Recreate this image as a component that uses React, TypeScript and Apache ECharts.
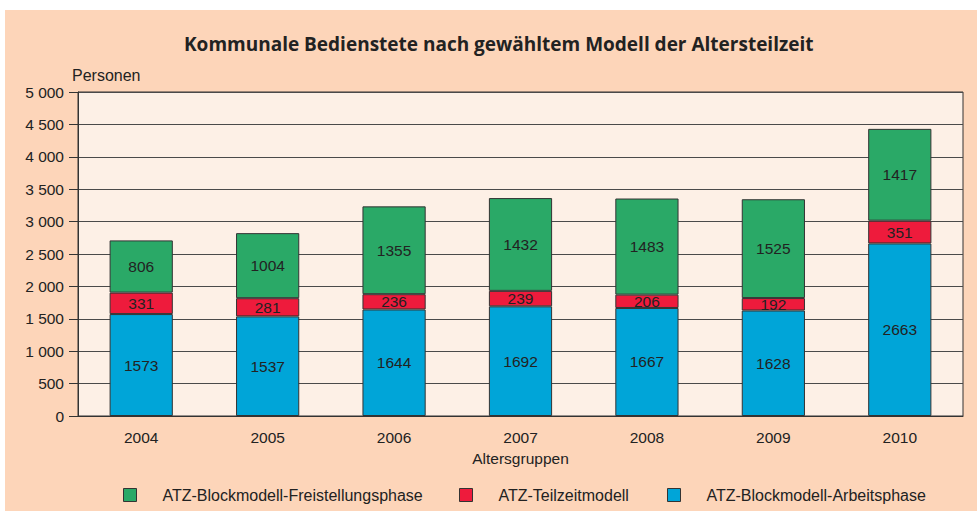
import React, { useEffect, useRef } from "react";
import * as echarts from "echarts";

const years = ["2004", "2005", "2006", "2007", "2008", "2009", "2010"];
const arbeitsphase = [1573, 1537, 1644, 1692, 1667, 1628, 2663];
const teilzeit = [331, 281, 236, 239, 206, 192, 351];
const freistellung = [806, 1004, 1355, 1432, 1483, 1525, 1417];
const yTicks = { min: 0, max: 5000, interval: 500 };

const names = {
  frei: "ATZ-Blockmodell-Freistellungsphase",
  teil: "ATZ-Teilzeitmodell",
  arb: "ATZ-Blockmodell-Arbeitsphase",
};
const colors = { frei: "#2aa967", teil: "#ee1b3c", arb: "#00a5d8" };
const FONT = "'Liberation Sans', Arial, sans-serif";

const fmt = (v: number) => String(v).replace(/\B(?=(\d{3})+(?!\d))/g, " ");

export default function App() {
  const ref = useRef<HTMLDivElement>(null);
  useEffect(() => {
    if (!ref.current) return;
    const chart = echarts.init(ref.current, null, { renderer: "svg" });
    const label = {
      show: true,
      position: "inside" as const,
      color: "#222",
      fontFamily: FONT,
      fontSize: 15.5,
    };
    const mkSeries = (key: "arb" | "teil" | "frei", data: number[]) => ({
      name: names[key],
      type: "bar" as const,
      stack: "total",
      barWidth: "50%",
      data,
      itemStyle: { color: colors[key], borderColor: "#333", borderWidth: 1 },
      label,
    });
    const mkLegend = (key: "arb" | "teil" | "frei", left: number) => ({
      data: [{ name: names[key], itemStyle: { color: colors[key], borderColor: "#333", borderWidth: 1 } }],
      left,
      top: 487,
      itemWidth: 13,
      itemHeight: 13,
      icon: "rect",
      padding: 0,
      textStyle: { fontFamily: FONT, fontSize: 16, color: "#222", padding: [0, 0, 0, 21] },
      selectedMode: false,
    });
    chart.setOption({
      animation: false,
      backgroundColor: "#ffffff",
      graphic: [
        {
          type: "rect",
          left: 5,
          top: 10,
          z: -10,
          shape: { width: 972, height: 501 },
          style: { fill: "#fdd5b9" },
        },
      ],
      title: {
        text: "Kommunale Bedienstete nach gewähltem Modell der Altersteilzeit",
        left: 184,
        top: 34,
        padding: 0,
        textStyle: { fontFamily: "'Open Sans', sans-serif", fontWeight: "bold", fontSize: 19, color: "#222" },
      },
      legend: [mkLegend("frei", 123), mkLegend("teil", 459), mkLegend("arb", 667)],
      grid: {
        left: 78,
        right: 14,
        top: 92,
        bottom: 95,
        show: true,
        backgroundColor: "#fdf0e6",
        borderColor: "#333",
        borderWidth: 1,
      },
      xAxis: {
        type: "category",
        data: years,
        name: "Altersgruppen",
        nameLocation: "middle",
        nameGap: 34,
        nameTextStyle: { fontFamily: FONT, fontSize: 15.5, color: "#222" },
        axisLine: { lineStyle: { color: "#333", width: 1 } },
        axisTick: { show: false },
        axisLabel: { fontFamily: FONT, fontSize: 15.5, color: "#222", margin: 13 },
      },
      yAxis: {
        type: "value",
        min: yTicks.min,
        max: yTicks.max,
        interval: yTicks.interval,
        name: "Personen",
        nameLocation: "end",
        nameGap: 9,
        nameTextStyle: { fontFamily: FONT, fontSize: 16, color: "#222", align: "left", padding: [0, 0, 0, -6] },
        axisLine: { show: true, lineStyle: { color: "#333", width: 1 } },
        axisTick: { show: true, length: 9, lineStyle: { color: "#333" } },
        axisLabel: { fontFamily: FONT, fontSize: 15.5, color: "#222", margin: 14, formatter: fmt },
        splitLine: { lineStyle: { color: "#4a4a4a", width: 1 } },
      },
      series: [
        mkSeries("arb", arbeitsphase),
        mkSeries("teil", teilzeit),
        mkSeries("frei", freistellung),
      ],
    });
    return () => chart.dispose();
  }, []);
  return (
    <div
      ref={ref}
      style={{ position: "fixed", left: 0, top: 0, width: 977, height: 511 }}
    />
  );
}
